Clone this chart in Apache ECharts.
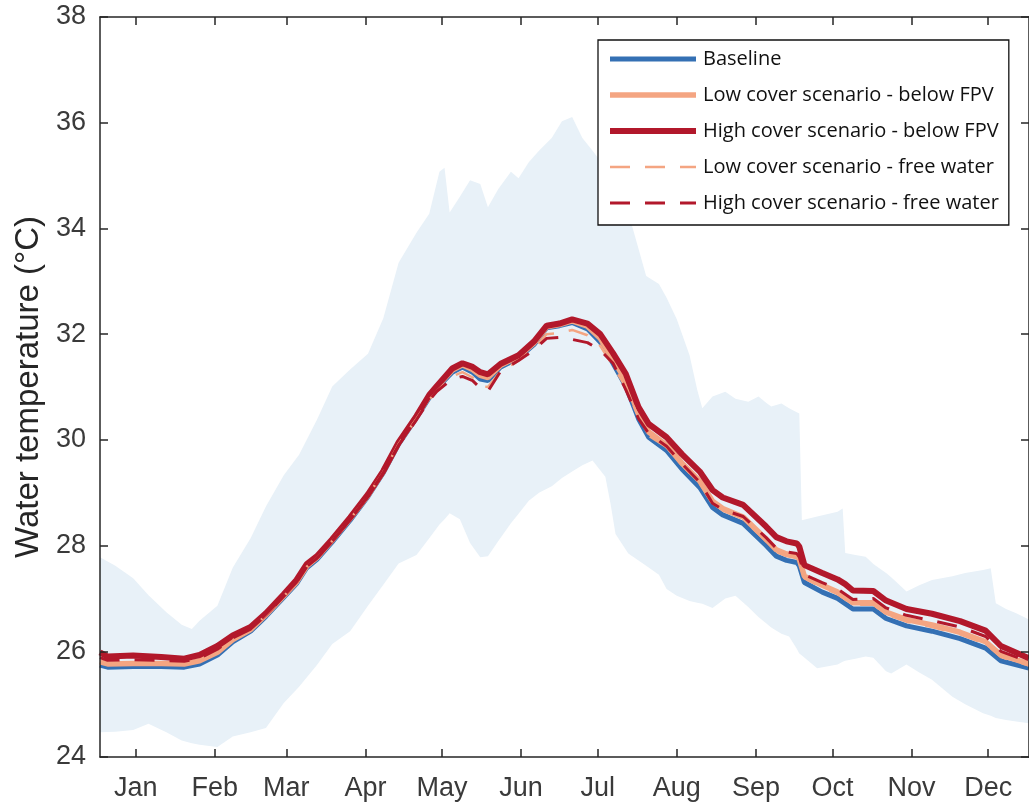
<!DOCTYPE html>
<html>
<head>
<meta charset="utf-8">
<script src="https://cdn.jsdelivr.net/npm/echarts@6/dist/echarts.min.js"></script>
<style>
html,body{margin:0;padding:0;background:#fff;}
#chart{width:1029px;height:805px;}
</style>
</head>
<body>
<div id="chart"></div>
<script>
// ---- Data (day of year / water temperature °C) ----
const monthTicks = [15, 46, 74, 105, 135, 166, 196, 227, 258, 288, 319, 349];
const monthLabels = ['Jan','Feb','Mar','Apr','May','Jun','Jul','Aug','Sep','Oct','Nov','Dec'];
const yTicks = [24, 26, 28, 30, 32, 34, 36, 38];

const days = [1, 4, 14, 25, 34, 40, 47, 53, 60, 66,
  73, 78, 82, 86, 92, 99, 106, 112, 118, 125,
  130, 133, 139, 143, 147, 150, 153, 158, 165, 171,
  176, 181, 186, 192, 197, 202, 207, 212, 216, 223,
  229, 236, 241, 245, 253, 262, 266, 270, 274, 275,
  277, 284, 290, 293, 296, 304, 309, 317, 327, 338,
  348, 354, 365];

const baseline = [25.74, 25.70, 25.71, 25.71, 25.70, 25.76, 25.93, 26.18, 26.38, 26.66,
  27.02, 27.28, 27.58, 27.74, 28.07, 28.48, 28.93, 29.38, 29.92, 30.42,
  30.80, 30.98, 31.28, 31.38, 31.28, 31.15, 31.12, 31.38, 31.55, 31.80,
  32.12, 32.16, 32.22, 32.10, 31.85, 31.45, 31.02, 30.40, 30.05, 29.80,
  29.45, 29.10, 28.72, 28.58, 28.42, 28.00, 27.80, 27.72, 27.68, 27.62,
  27.30, 27.12, 27.00, 26.90, 26.80, 26.80, 26.62, 26.48, 26.38, 26.24,
  26.06, 25.82, 25.68];

const lowBelow = [25.80, 25.76, 25.77, 25.77, 25.76, 25.82, 25.98, 26.22, 26.41, 26.69,
  27.05, 27.31, 27.61, 27.77, 28.10, 28.51, 28.95, 29.40, 29.94, 30.44,
  30.83, 31.00, 31.32, 31.42, 31.33, 31.22, 31.18, 31.41, 31.58, 31.83,
  32.14, 32.18, 32.25, 32.15, 31.92, 31.53, 31.12, 30.50, 30.15, 29.90,
  29.56, 29.22, 28.84, 28.70, 28.54, 28.12, 27.92, 27.84, 27.80, 27.74,
  27.42, 27.25, 27.12, 27.02, 26.92, 26.92, 26.74, 26.60, 26.50, 26.36,
  26.18, 25.93, 25.76];

const highBelow = [25.98, 25.90, 25.92, 25.89, 25.86, 25.93, 26.10, 26.30, 26.46, 26.72,
  27.08, 27.35, 27.65, 27.80, 28.12, 28.53, 28.97, 29.41, 29.95, 30.45,
  30.85, 31.02, 31.35, 31.45, 31.38, 31.28, 31.24, 31.44, 31.60, 31.86,
  32.16, 32.20, 32.28, 32.20, 32.00, 31.64, 31.25, 30.62, 30.30, 30.05,
  29.73, 29.40, 29.05, 28.91, 28.77, 28.36, 28.16, 28.08, 28.04, 27.98,
  27.63, 27.48, 27.36, 27.27, 27.15, 27.14, 26.96, 26.80, 26.71, 26.57,
  26.39, 26.10, 25.87];

const lowFree = [25.79, 25.75, 25.76, 25.76, 25.75, 25.81, 25.97, 26.21, 26.40, 26.68,
  27.04, 27.30, 27.60, 27.76, 28.09, 28.50, 28.94, 29.39, 29.92, 30.40,
  30.76, 30.92, 31.20, 31.28, 31.18, 31.02, 31.00, 31.30, 31.50, 31.72,
  32.00, 32.02, 32.08, 31.98, 31.78, 31.40, 31.00, 30.42, 30.08, 29.86,
  29.52, 29.18, 28.80, 28.66, 28.50, 28.08, 27.88, 27.80, 27.76, 27.70,
  27.38, 27.21, 27.08, 26.98, 26.88, 26.88, 26.70, 26.56, 26.46, 26.32,
  26.14, 25.89, 25.73];

const highFree = [25.88, 25.83, 25.84, 25.83, 25.81, 25.87, 26.04, 26.25, 26.42, 26.70,
  27.05, 27.31, 27.60, 27.76, 28.09, 28.50, 28.94, 29.38, 29.90, 30.38,
  30.75, 30.92, 31.15, 31.20, 31.12, 30.98, 30.92, 31.30, 31.50, 31.70,
  31.92, 31.94, 31.90, 31.84, 31.70, 31.45, 30.95, 30.40, 30.12, 29.88,
  29.55, 29.20, 28.80, 28.68, 28.55, 28.15, 27.95, 27.88, 27.85, 27.78,
  27.45, 27.30, 27.18, 27.08, 26.98, 27.00, 26.82, 26.68, 26.58, 26.46,
  26.28, 26.00, 25.80];

const bandDays = [1, 7, 14, 20, 27, 33, 37, 40, 47, 53,
  60, 66, 73, 79, 86, 92, 99, 106, 112, 118,
  125, 130, 134, 136, 138, 142, 146, 150, 153, 157,
  162, 165, 169, 173, 178, 182, 186, 190, 194, 199,
  201, 203, 208, 215, 220, 223, 227, 232, 235, 237,
  241, 246, 250, 255, 259, 262, 264, 268, 271, 274,
  275, 276, 282, 290, 292, 293, 297, 301, 304, 309,
  311, 317, 322, 327, 335, 340, 347, 350, 352, 356,
  360, 365];

const bandHigh = [27.78, 27.62, 27.38, 27.06, 26.74, 26.50, 26.42, 26.58, 26.86, 27.58,
  28.14, 28.74, 29.33, 29.72, 30.38, 31.01, 31.33, 31.63, 32.30, 33.35,
  33.92, 34.28, 35.07, 35.15, 34.30, 34.60, 34.91, 34.84, 34.40, 34.74,
  35.07, 34.95, 35.25, 35.47, 35.71, 36.03, 36.11, 35.71, 35.47, 35.15,
  35.00, 34.85, 34.30, 33.10, 32.95, 32.69, 32.28, 31.60, 30.95, 30.60,
  30.82, 30.91, 30.78, 30.72, 30.82, 30.70, 30.63, 30.69, 30.60, 30.52,
  30.50, 28.48, 28.55, 28.64, 28.70, 27.86, 27.82, 27.79, 27.65, 27.48,
  27.40, 27.13, 27.25, 27.35, 27.42, 27.48, 27.54, 27.57, 26.91, 26.80,
  26.72, 26.60];

const bandLow = [24.47, 24.48, 24.51, 24.63, 24.47, 24.31, 24.26, 24.23, 24.19, 24.39,
  24.47, 24.55, 25.02, 25.33, 25.74, 26.14, 26.38, 26.86, 27.26, 27.66,
  27.82, 28.14, 28.40, 28.50, 28.61, 28.50, 28.05, 27.78, 27.80, 28.08,
  28.42, 28.60, 28.85, 29.00, 29.12, 29.28, 29.40, 29.52, 29.61, 29.30,
  28.80, 28.22, 27.85, 27.62, 27.45, 27.18, 27.05, 26.95, 26.92, 26.90,
  26.82, 27.00, 27.05, 26.84, 26.65, 26.53, 26.45, 26.33, 26.28, 26.05,
  25.96, 25.92, 25.68, 25.75, 25.80, 25.82, 25.86, 25.90, 25.88, 25.62,
  25.58, 25.75, 25.60, 25.46, 25.14, 25.00, 24.83, 24.78, 24.74, 24.70,
  24.67, 24.64];

// ---- Build ----
const pair = (xs, ys) => xs.map((x, i) => [x, ys[i]]);

const FONT = "'Liberation Sans', Arial, Helvetica, sans-serif";
const AXIS_COLOR = '#262626';
const C_BLUE = '#3470b4', C_SALMON = '#f4a582', C_RED = '#b2182b', C_BAND = '#e8f1f8';

const axisLine = { show: true, onZero: false, lineStyle: { color: AXIS_COLOR, width: 1.5 } };
const tick = { show: true, inside: true, length: 8, lineStyle: { color: AXIS_COLOR, width: 1.5 } };

const chart = echarts.init(document.getElementById('chart'), null, { renderer: 'canvas' });
chart.setOption({
  animation: false,
  backgroundColor: '#fff',
  grid: { left: 100, top: 17, width: 930, height: 740, containLabel: false },
  legend: {
    orient: 'vertical', left: 598, top: 40, z: 20,
    backgroundColor: '#fff', borderColor: '#111', borderWidth: 1.3,
    padding: [9, 10, 12, 9],
    itemWidth: 86, itemHeight: 20, itemGap: 16,
    itemStyle: { opacity: 0 },
    lineStyle: { width: 'inherit' },
    textStyle: { fontFamily: "'Open Sans', 'Noto Sans', sans-serif", fontSize: 20, color: '#111', lineHeight: 20, padding: [0, 0, 0, 2] },
    data: ['Baseline', 'Low cover scenario - below FPV', 'High cover scenario - below FPV',
           'Low cover scenario - free water', 'High cover scenario - free water']
  },
  xAxis: [{
    type: 'value', min: 1, max: 365, position: 'bottom', z: 10,
    axisLine: axisLine,
    axisTick: Object.assign({}, tick, { customValues: monthTicks }),
    axisLabel: {
      customValues: monthTicks, margin: 18,
      fontFamily: FONT, fontSize: 27, color: '#3a3a3a',
      formatter: v => monthLabels[monthTicks.indexOf(Math.round(v))] || ''
    },
    splitLine: { show: false }
  }, {
    type: 'value', min: 1, max: 365, position: 'top', z: 10,
    axisLine: axisLine,
    axisTick: Object.assign({}, tick, { customValues: monthTicks }),
    axisLabel: { show: false },
    splitLine: { show: false }
  }],
  yAxis: [{
    type: 'value', min: 24, max: 38, interval: 2, position: 'left', z: 10,
    axisLine: axisLine, axisTick: tick,
    axisLabel: { margin: 14, fontFamily: FONT, fontSize: 27, color: '#3a3a3a' },
    splitLine: { show: false },
    name: 'Water temperature (°C)', nameLocation: 'middle', nameGap: 49,
    nameTextStyle: { fontFamily: FONT, fontSize: 33, color: '#262626' }
  }, {
    type: 'value', min: 24, max: 38, interval: 2, position: 'right', z: 10,
    axisLine: axisLine, axisTick: tick,
    axisLabel: { show: false }, splitLine: { show: false }
  }],
  series: [
    { name: 'bandHigh', type: 'line', data: pair(bandDays, bandHigh),
      symbol: 'none', lineStyle: { width: 0, opacity: 0 }, areaStyle: { color: C_BAND, opacity: 1 }, silent: true, z: 1 },
    { name: 'bandLow', type: 'line', data: pair(bandDays, bandLow),
      symbol: 'none', lineStyle: { width: 0, opacity: 0 }, areaStyle: { color: '#ffffff', opacity: 1 }, silent: true, z: 1 },
    { name: 'Baseline', type: 'line', data: pair(days, baseline), symbol: 'none',
      lineStyle: { color: C_BLUE, width: 5 }, itemStyle: { color: C_BLUE }, z: 3 },
    { name: 'Low cover scenario - below FPV', type: 'line', data: pair(days, lowBelow), symbol: 'none',
      lineStyle: { color: C_SALMON, width: 5.5 }, itemStyle: { color: C_SALMON }, z: 4 },
    { name: 'High cover scenario - below FPV', type: 'line', data: pair(days, highBelow), symbol: 'none',
      lineStyle: { color: C_RED, width: 6 }, itemStyle: { color: C_RED }, z: 5 },
    { name: 'Low cover scenario - free water', type: 'line', data: pair(days, lowFree), symbol: 'none',
      lineStyle: { color: C_SALMON, width: 2.5, type: [20, 15] }, itemStyle: { color: C_SALMON }, z: 6 },
    { name: 'High cover scenario - free water', type: 'line', data: pair(days, highFree), symbol: 'none',
      lineStyle: { color: C_RED, width: 3, type: [20, 15] }, itemStyle: { color: C_RED }, z: 7 }
  ]
});
</script>
</body>
</html>
